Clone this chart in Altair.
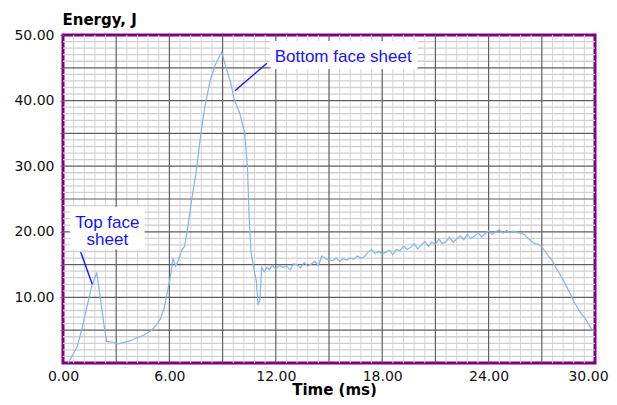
import altair as alt
import pandas as pd

# ---- data ----
time_ms = [0.3, 0.5, 0.8, 1.05, 1.3, 1.6, 1.9, 2.05, 2.3, 2.46, 2.8, 3.1, 3.4, 3.8, 4.15, 4.6, 5.0, 5.3,
           5.5, 5.7, 5.9, 6.05, 6.2, 6.35, 6.5, 6.7, 6.85, 7.0, 7.25, 7.5, 7.8, 8.0, 8.3, 8.6, 8.95, 9.2,
           9.45, 9.65, 9.95, 10.25, 10.4, 10.5, 10.6, 10.75, 10.9, 11.0, 11.1, 11.2, 11.35, 11.5, 11.65,
           11.8, 12.0, 12.2, 12.4, 12.6, 12.8, 13.0, 13.2, 13.4, 13.6, 13.8, 14.0, 14.2, 14.4, 14.6, 14.8,
           15.0, 15.2, 15.4, 15.6, 15.8, 16.0, 16.2, 16.4, 16.6, 16.8, 17.0, 17.2, 17.4, 17.6, 17.8, 18.0,
           18.2, 18.4, 18.6, 18.8, 19.0, 19.2, 19.4, 19.6, 19.8, 20.0, 20.2, 20.4, 20.6, 20.8, 21.0, 21.2,
           21.4, 21.6, 21.8, 22.0, 22.2, 22.4, 22.6, 22.8, 23.0, 23.2, 23.4, 23.6, 23.8, 24.0, 24.2, 24.4,
           24.6, 24.8, 25.0, 25.2, 25.4, 25.6, 25.8, 26.0, 26.2, 26.4, 26.6, 26.8, 27.0, 27.2, 27.4, 27.6,
           27.8, 28.0, 28.2, 28.4, 28.6, 28.8, 29.0, 29.2, 29.4, 29.6, 29.8, 29.95]
energy_j = [0.0, 1.0, 2.5, 5.0, 8.0, 11.5, 13.8, 11.0, 6.0, 3.3, 3.2, 2.9, 3.1, 3.4, 3.8, 4.3, 5.0, 5.9,
            6.8, 8.3, 11.0, 13.0, 16.0, 14.8, 15.6, 17.2, 17.8, 20.0, 24.8, 29.0, 35.5, 39.0, 43.1, 45.5, 47.4, 45.0,
            42.8, 40.2, 38.2, 35.0, 30.0, 22.0, 17.0, 14.6, 12.5, 9.0, 9.5, 14.6, 13.9, 14.6, 14.2,
            14.9, 14.3, 14.9, 14.6, 14.8, 14.2, 15.1, 15.0, 14.5, 15.3, 14.8, 15.1, 15.5, 14.9, 16.3, 15.9,
            15.7, 15.6, 16.0, 15.5, 15.9, 15.7, 16.0, 15.8, 16.3, 16.0, 16.2, 16.9, 17.3, 16.7, 17.0, 16.6,
            16.9, 17.2, 16.5, 17.3, 17.1, 17.8, 17.3, 17.6, 18.2, 17.4, 18.0, 18.5, 17.8, 18.4, 18.1, 18.9,
            18.2, 18.5, 19.2, 18.4, 18.9, 19.4, 18.8, 19.6, 19.0, 19.3, 19.9, 19.2, 19.7, 20.1, 19.6, 20.0,
            20.3, 19.8, 20.2, 19.9, 20.1, 19.9, 19.8, 19.6, 19.1, 18.6, 18.2, 18.1, 17.7, 17.0, 16.2, 15.6,
            14.5, 13.6, 12.7, 11.6, 10.6, 9.4, 8.5, 7.6, 7.0, 6.1, 5.2, 4.8]

x_label_values = [0, 6, 12, 18, 24, 30]
y_tick_values = [5, 10, 15, 20, 25, 30, 35, 40, 45, 50]
x_major_grid = [3, 6, 9, 12, 15, 18, 21, 24, 27]
y_major_grid = [5, 10, 15, 20, 25, 30, 35, 40, 45]
x_minor_grid = [0.6, 1.2, 1.8, 2.4, 3.6, 4.2, 4.8, 5.4, 6.6, 7.2, 7.8, 8.4, 9.6, 10.2, 10.8, 11.4,
                12.6, 13.2, 13.8, 14.4, 15.6, 16.2, 16.8, 17.4, 18.6, 19.2, 19.8, 20.4, 21.6, 22.2,
                22.8, 23.4, 24.6, 25.2, 25.8, 26.4, 27.6, 28.2, 28.8, 29.4]
y_minor_grid = [1, 2, 3, 4, 6, 7, 8, 9, 11, 12, 13, 14, 16, 17, 18, 19, 21, 22, 23, 24, 26, 27, 28, 29,
                31, 32, 33, 34, 36, 37, 38, 39, 41, 42, 43, 44, 46, 47, 48, 49]

# annotations (data coordinates)
ann_text = ["Bottom face sheet", "Top face", "sheet"]
ann_t = [15.8, 2.5, 2.5]
ann_e = [46.6, 21.4, 18.7]
box_t1 = [11.7, 0.4]
box_t2 = [20.0, 4.6]
box_e1 = [44.8, 17.3]
box_e2 = [49.1, 23.8]
lead_t1 = [11.5, 1.0]
lead_t2 = [9.7, 1.65]
lead_e1 = [45.7, 16.9]
lead_e2 = [41.5, 12.0]

df = pd.DataFrame({"t": time_ms, "E": energy_j})

xs = alt.Scale(domain=[0, 30], nice=False, zero=False)
ys = alt.Scale(domain=[0, 50], nice=False, zero=False)

x_axis = alt.Axis(
    values=x_label_values, format=".2f", grid=False, domain=False, ticks=False,
    labelFont="DejaVu Sans", labelFontSize=14, labelColor="#111", labelPadding=6,
    labelFlush=False,
    labelOffset={"condition": {"test": "datum.value == 30", "value": -7}, "value": 0},
    title="Time (ms)", titleFont="DejaVu Sans", titleFontSize=15, titleFontWeight="bold",
    titleColor="#000", titleX=271, titleY=26, titleAlign="center", titleBaseline="middle")
y_axis = alt.Axis(
    values=y_tick_values, grid=False, domain=False, ticks=True, tickSize=3, tickColor="#666",
    labelExpr="datum.value % 10 == 0 ? format(datum.value, '.2f') : ''",
    labelFont="DejaVu Sans", labelFontSize=14, labelColor="#111", labelPadding=6,
    labelFlush=False,
    title="Energy, J", titleFont="DejaVu Sans", titleFontSize=15, titleFontWeight="bold",
    titleColor="#000", titleAngle=0, titleX=-1, titleY=-16, titleAlign="left",
    titleBaseline="middle")


def X(field):
    return alt.X(field, scale=xs, axis=x_axis, title="Time (ms)")


def Y(field):
    return alt.Y(field, scale=ys, axis=y_axis, title="Energy, J")


def vgrid(vals, color, width):
    return alt.Chart(pd.DataFrame({"v": vals})).mark_rule(color=color, strokeWidth=width).encode(
        x=X("v:Q"))


def hgrid(vals, color, width):
    return alt.Chart(pd.DataFrame({"v": vals})).mark_rule(color=color, strokeWidth=width).encode(
        y=Y("v:Q"))


minor_v = vgrid(x_minor_grid, "#d6d6d6", 1)
minor_h = hgrid(y_minor_grid, "#d0d0d0", 1.3)
major_v = vgrid(x_major_grid, "#5f5f5f", 1.2)
major_h = hgrid(y_major_grid, "#5f5f5f", 1.2)

line = alt.Chart(df).mark_line(color="#7fb6ef", strokeWidth=1.2).encode(
    x=X("t:Q"), y=Y("E:Q"))

boxes = alt.Chart(pd.DataFrame({"t1": box_t1, "t2": box_t2, "e1": box_e1, "e2": box_e2})).mark_rect(
    color="white").encode(x=X("t1:Q"), x2="t2:Q", y=Y("e1:Q"), y2="e2:Q")

leaders = alt.Chart(pd.DataFrame({"t1": lead_t1, "t2": lead_t2, "e1": lead_e1, "e2": lead_e2})).mark_rule(
    color="#1414ff", strokeWidth=1.4).encode(x=X("t1:Q"), x2="t2:Q", y=Y("e1:Q"), y2="e2:Q")

texts = alt.Chart(pd.DataFrame({"t": ann_t, "E": ann_e, "txt": ann_text})).mark_text(
    color="#1414ff", font="Liberation Sans", fontSize=17, align="center", baseline="middle").encode(
    x=X("t:Q"), y=Y("E:Q"), text="txt:N")

chart = alt.layer(minor_v, minor_h, major_v, major_h, line, boxes, leaders, texts).properties(
    width=532, height=328,
    background="white",
    autosize=alt.AutoSizeParams(type="none"),
    padding={"left": 55, "top": 27, "right": 14, "bottom": 34},
).configure_view(stroke="#800080", strokeWidth=3)

chart.save("out.html", embed_options={"renderer": "svg", "actions": False})
